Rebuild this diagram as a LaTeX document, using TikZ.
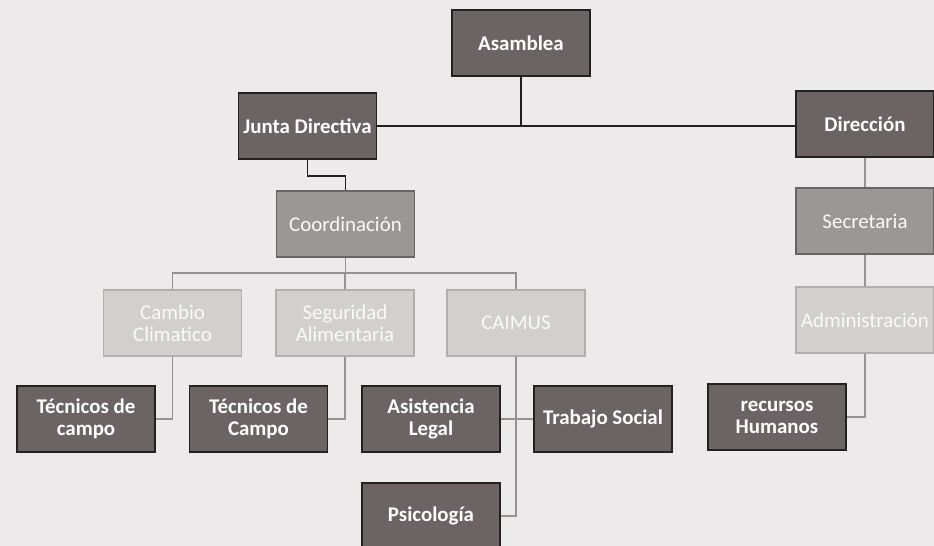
\documentclass[tikz,border=0pt]{standalone}
\usepackage{fontspec}
\setmainfont{Carlito}
\usetikzlibrary{positioning}

\definecolor{papel}{RGB}{236,234,234}
\definecolor{oscuro}{RGB}{108,100,100}
\definecolor{bordeosc}{RGB}{38,33,33}
\definecolor{medio}{RGB}{156,151,151}
\definecolor{bordemed}{RGB}{105,100,100}
\definecolor{claro}{RGB}{210,207,207}
\definecolor{bordecla}{RGB}{178,174,174}
\definecolor{linea}{RGB}{150,146,146}

\begin{document}
\begin{tikzpicture}[x=0.02cm, y=-0.02cm,
  font=\fontsize{11.9}{12.6}\selectfont,
  caja/.style={draw, line width=0.9pt, minimum width=2.76cm,
    minimum height=1.32cm, inner sep=1pt, align=center},
  cajaosc/.style={caja, fill=oscuro, draw=bordeosc, text=white,
    font=\fontsize{11.9}{12.6}\selectfont\bfseries},
  cajamed/.style={caja, fill=medio, draw=bordemed, text=white!95!medio},
  cajacla/.style={caja, fill=claro, draw=bordecla, text=white!90!claro},
  principal/.style={draw=black!88, line width=1.1pt},
  rama/.style={draw=linea, line width=0.8pt}]

% paper
\fill[papel] (0,0) rectangle (934,546);
\useasboundingbox (0,0) rectangle (934,546);

% top level
\node[cajaosc] (asamblea) at (521,43) {Asamblea};
\node[cajaosc] (junta) at (307.5,126) {Junta Directiva};
\node[cajaosc] (direccion) at (865,124) {Dirección};

% second level
\node[cajamed] (coord) at (345.5,224) {Coordinación};
\node[cajamed] (secretaria) at (865,221) {Secretaria};

% programs
\node[cajacla] (cambio) at (172.5,323) {Cambio\\Climatico};
\node[cajacla] (seguridad) at (345,323) {Seguridad\\Alimentaria};
\node[cajacla] (caimus) at (516,323) {CAIMUS};
\node[cajacla] (admin) at (865,320) {Administración};

% staff
\node[cajaosc] (tecuno) at (86,419) {Técnicos de\\campo};
\node[cajaosc] (tecdos) at (258.5,419) {Técnicos de\\Campo};
\node[cajaosc] (legal) at (431,419) {Asistencia\\Legal};
\node[cajaosc] (trabajo) at (603,419) {Trabajo Social};
\node[cajaosc] (recursos) at (777,417) {recursos\\Humanos};
\node[cajaosc] (psico) at (431,516) {Psicología};

% connectors
\draw[principal] (asamblea.south) -- (asamblea.south |- junta.east);
\draw[principal] (junta.east) -- (junta.east -| direccion.west);
\draw[principal] (junta.south) -- ++(0,16) -| (coord.north);

\coordinate (bus) at (345.5,273);
\draw[rama] (coord.south) -- (bus);
\draw[rama] (cambio.north) |- (bus) -| (caimus.north);
\draw[rama] (seguridad.north) -- (seguridad.north |- bus);

\draw[rama] (cambio.south) |- (tecuno.east);
\draw[rama] (seguridad.south) |- (tecdos.east);
\draw[rama] (caimus.south) |- (psico.east);
\draw[rama] (legal.east) -- (trabajo.west);

\draw[rama] (direccion.south) -- (secretaria.north);
\draw[rama] (secretaria.south) -- (admin.north);
\draw[rama] (admin.south) |- (recursos.east);

\end{tikzpicture}
\end{document}
